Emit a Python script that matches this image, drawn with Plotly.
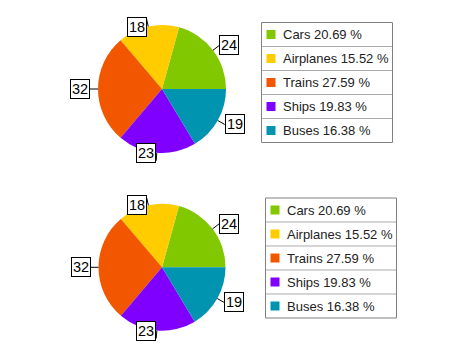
import math
import plotly.graph_objects as go

# ---- data ----
labels = ["Cars", "Airplanes", "Trains", "Ships", "Buses"]
values = [24, 18, 32, 23, 19]
colors = ["#82c800", "#ffcc00", "#f25700", "#8000ff", "#0094b0"]

# ---- layout constants (pixels) ----
W, H = 460, 345
PIES = [
    dict(cx=162, cy=89, r=64, legx=261.5, legy=22.5),
    dict(cx=162, cy=267.3, r=63.5, legx=265.5, legy=198),
]
LABEL_GAP = 8
LEG_W, ROW_H = 131, 24
FONT = "Liberation Sans, Arial, sans-serif"


def px(x):
    return x / W


def py(y):
    return 1 - y / H


total = sum(values)
# plotly's counterclockwise pies put the first slice's clockwise edge at `rotation`;
# shift so the sequence starts at 3 o'clock
rotation = 90 - values[0] / total * 360

fig = go.Figure()
shapes = []
annotations = []

for p in PIES:
    cx, cy, r = p["cx"], p["cy"], p["r"]
    fig.add_trace(go.Pie(
        labels=labels, values=values, sort=False, direction="counterclockwise",
        rotation=rotation, marker=dict(colors=colors, line=dict(width=0)),
        textinfo="none", hoverinfo="label+value+percent", showlegend=False,
        domain=dict(x=[px(cx - r), px(cx + r)], y=[py(cy + r), py(cy - r)]),
    ))
    # value labels with leader lines
    cum = 0
    for v in values:
        mid = math.radians((cum + v / 2) / total * 360)
        cum += v
        c, s = math.cos(mid), math.sin(mid)
        x1, y1 = cx + r * c, cy - r * s
        x2, y2 = cx + (r + LABEL_GAP) * c, cy - (r + LABEL_GAP) * s
        shapes.append(dict(type="line", xref="paper", yref="paper",
                           x0=px(x1), y0=py(y1), x1=px(x2), y1=py(y2),
                           line=dict(color="#000", width=1)))
        if s > 0.9:
            ya = "top"
            y2 -= 2
        elif s < -0.9:
            ya = "bottom"
            y2 += 2
        else:
            ya = "middle"
        annotations.append(dict(
            x=px(x2), y=py(y2), xref="paper", yref="paper",
            xanchor="left" if c > 0 else "right", yanchor=ya,
            text=str(v), showarrow=False,
            font=dict(family=FONT, size=14.5, color="#000"),
            bgcolor="#fff", bordercolor="#000", borderwidth=1, borderpad=1,
        ))
    # legend box
    lx, ly = p["legx"], p["legy"]
    n = len(labels)
    for i in range(1, n):
        yy = ly + i * ROW_H
        shapes.append(dict(type="line", xref="paper", yref="paper",
                           x0=px(lx), x1=px(lx + LEG_W), y0=py(yy), y1=py(yy),
                           line=dict(color="#aaaaaa", width=1)))
    shapes.append(dict(type="rect", xref="paper", yref="paper",
                       x0=px(lx), x1=px(lx + LEG_W), y0=py(ly), y1=py(ly + n * ROW_H),
                       line=dict(color="#808080", width=1)))
    for i, (lab, v, col) in enumerate(zip(labels, values, colors)):
        yc = ly + i * ROW_H + ROW_H / 2
        shapes.append(dict(type="rect", xref="paper", yref="paper",
                           x0=px(lx + 5), x1=px(lx + 14), y0=py(yc - 4.5), y1=py(yc + 4.5),
                           fillcolor=col, line=dict(width=0)))
        annotations.append(dict(
            x=px(lx + 19), y=py(yc), xref="paper", yref="paper",
            xanchor="left", yanchor="middle", showarrow=False,
            text=f"{lab} {v / total * 100:.2f} %",
            font=dict(family=FONT, size=13, color="#222"),
        ))

fig.update_layout(
    width=W, height=H, autosize=False,
    margin=dict(l=0, r=0, t=0, b=0),
    paper_bgcolor="#fff", plot_bgcolor="#fff",
    shapes=shapes, annotations=annotations,
)
fig.write_html("out.html")
